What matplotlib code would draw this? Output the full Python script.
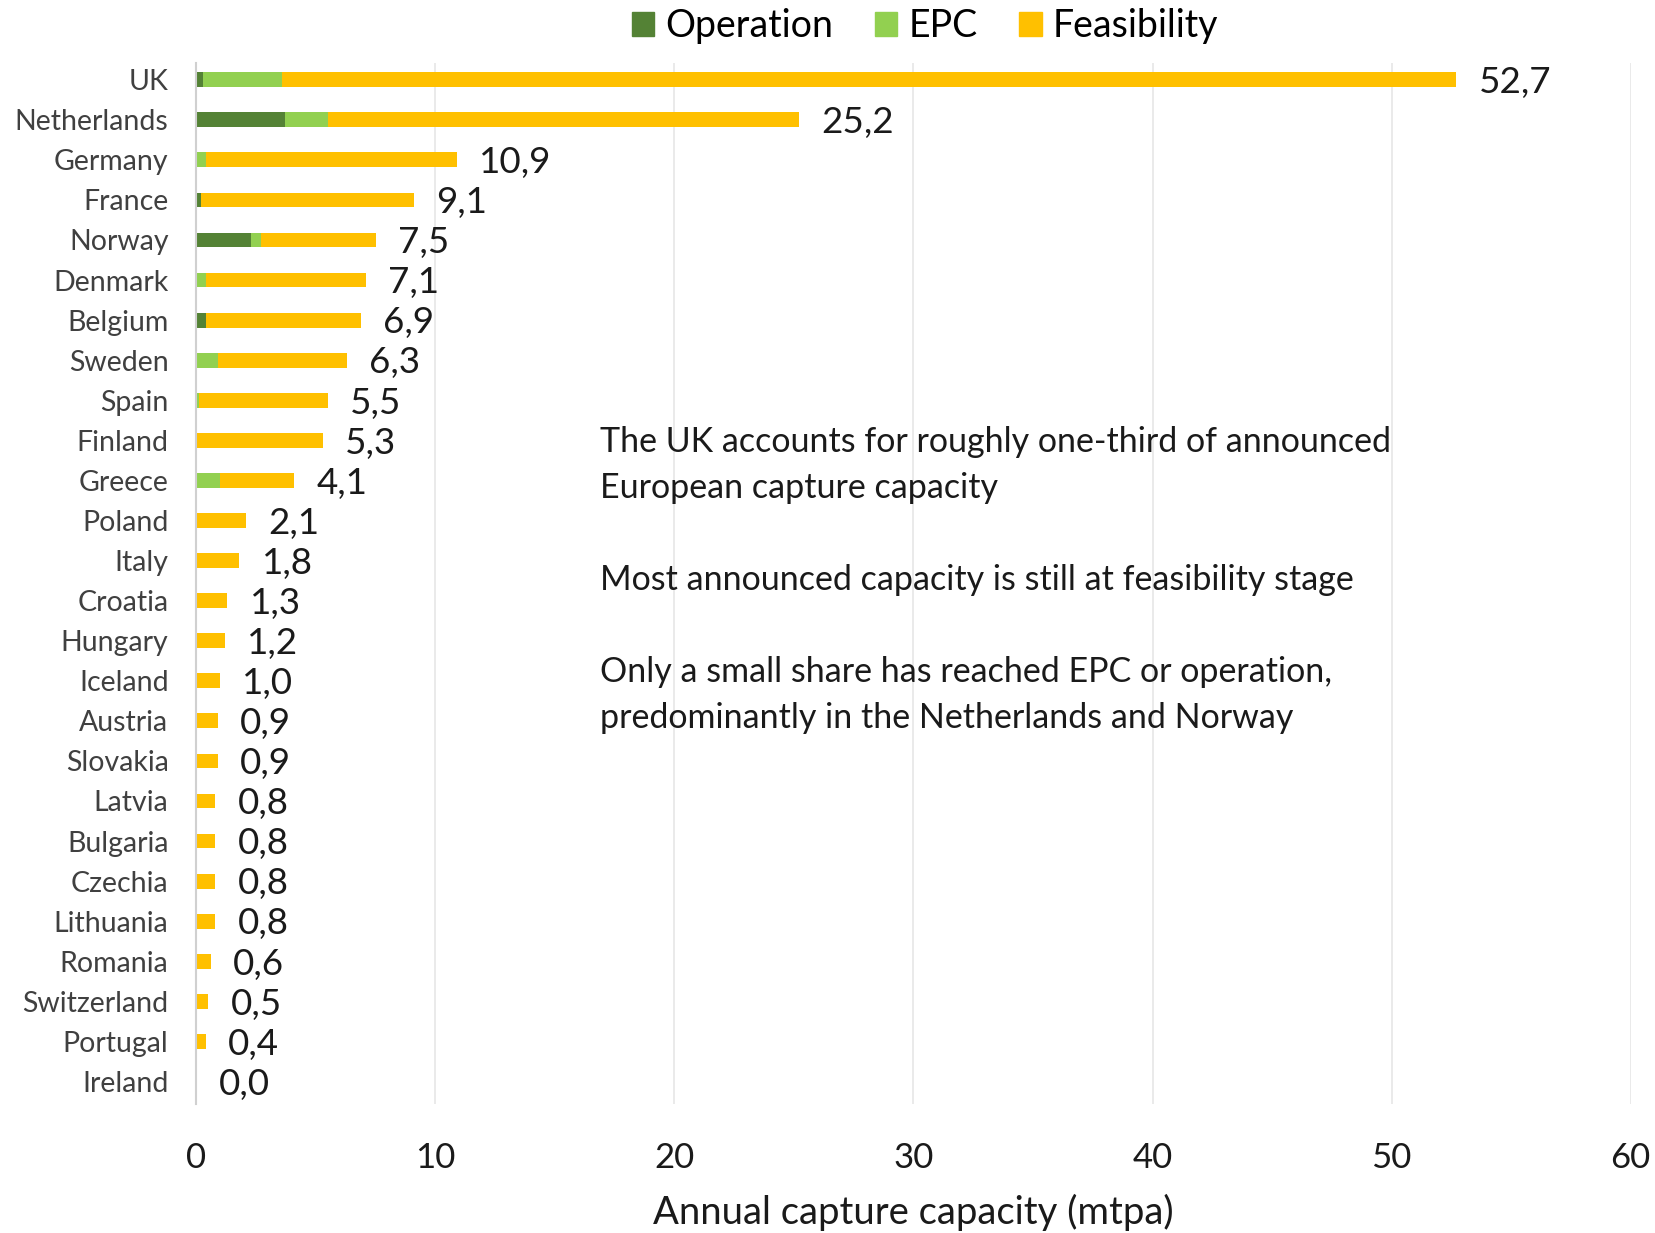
import matplotlib.pyplot as plt
from matplotlib.patches import Patch

plt.rcParams['font.family'] = ['Lato', 'DejaVu Sans']

countries = ['UK', 'Netherlands', 'Germany', 'France', 'Norway', 'Denmark', 'Belgium',
             'Sweden', 'Spain', 'Finland', 'Greece', 'Poland', 'Italy', 'Croatia',
             'Hungary', 'Iceland', 'Austria', 'Slovakia', 'Latvia', 'Bulgaria',
             'Czechia', 'Lithuania', 'Romania', 'Switzerland', 'Portugal', 'Ireland']
totals = [52.7, 25.2, 10.9, 9.1, 7.5, 7.1, 6.9, 6.3, 5.5, 5.3, 4.1, 2.1, 1.8, 1.3,
          1.2, 1.0, 0.9, 0.9, 0.8, 0.8, 0.8, 0.8, 0.6, 0.5, 0.4, 0.0]
operation = [0.3, 3.7, 0.0, 0.2, 2.3, 0.0, 0.4, 0.0, 0.0, 0.05, 0.0, 0.0, 0.05, 0.0,
             0.0, 0.0, 0.05, 0.0, 0.0, 0.0, 0.0, 0.0, 0.0, 0.0, 0.0, 0.0]
epc = [3.3, 1.8, 0.4, 0.0, 0.4, 0.4, 0.0, 0.9, 0.1, 0.0, 1.0, 0.0, 0.0, 0.0,
       0.0, 0.0, 0.0, 0.0, 0.0, 0.0, 0.0, 0.0, 0.0, 0.0, 0.0, 0.0]
# feasibility is whatever is left of each country's total
feasibility = [t - o - e for t, o, e in zip(totals, operation, epc)]

notes = ("The UK accounts for roughly one-third of announced\n"
         "European capture capacity\n\n"
         "Most announced capacity is still at feasibility stage\n\n"
         "Only a small share has reached EPC or operation,\n"
         "predominantly in the Netherlands and Norway")

c_op, c_epc, c_feas = '#548235', '#92D050', '#FFC000'

fig = plt.figure(figsize=(16.55, 12.33), dpi=100)
ax = fig.add_axes([0.1186, 0.105, 0.8667, 0.844])

y = list(range(len(countries)))
h = 0.37
ax.barh(y, operation, height=h, color=c_op)
ax.barh(y, epc, height=h, left=operation, color=c_epc)
left_f = [o + e for o, e in zip(operation, epc)]
ax.barh(y, feasibility, height=h, left=left_f, color=c_feas)

for yi, t in zip(y, totals):
    ax.annotate(f"{t:.1f}".replace('.', ','), (t, yi), xytext=(16, -2),
                textcoords='offset points', ha='left', va='center', fontsize=26.5,
                color='#1a1a1a')

ax.text(16.9, 8.63, notes, ha='left', va='top', fontsize=24.5, linespacing=1.54,
        color='#1a1a1a')

ax.set_xlim(0, 60)
ax.set_ylim(25.55, -0.42)
ax.set_yticks(y)
ax.set_yticklabels(countries, fontsize=20.5, color='#404040')
ax.set_xticks(range(0, 61, 10))
ax.tick_params(axis='x', labelsize=25, length=0, pad=28, labelcolor='#1a1a1a')
ax.tick_params(axis='y', length=0, pad=20)
ax.set_xlabel('Annual capture capacity (mtpa)', fontsize=27.5, labelpad=14, color='#1a1a1a')

ax.grid(axis='x', color='#e6e6e6', linewidth=1.2)
ax.set_axisbelow(True)
for s in ['top', 'right', 'bottom']:
    ax.spines[s].set_visible(False)
ax.spines['left'].set_color('#d0d0d0')
ax.spines['left'].set_linewidth(1.5)

handles = [Patch(color=c_op, label='Operation'), Patch(color=c_epc, label='EPC'),
           Patch(color=c_feas, label='Feasibility')]
fig.legend(handles=handles, loc='center', bbox_to_anchor=(0.559, 0.979), ncol=3,
           frameon=False, fontsize=27, handlelength=0.6, handleheight=0.6,
           handletextpad=0.3, columnspacing=1.1)

fig.savefig('out.png', dpi=100)
